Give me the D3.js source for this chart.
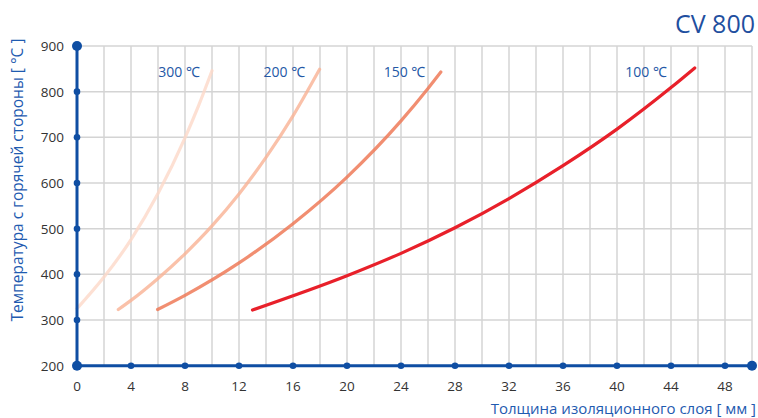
<!DOCTYPE html>
<html>
<head>
<meta charset="utf-8">
<script src="https://cdn.jsdelivr.net/npm/d3@7"></script>
<style>
  html, body { margin: 0; padding: 0; background: #fff; }
  svg { display: block; font-family: "Open Sans", "Noto Sans", sans-serif; }
</style>
</head>
<body>
<svg id="chart" width="758" height="418"></svg>
<script>
// Thickness of insulation layer [mm] vs hot-side temperature [°C], one curve per cold-side temperature
const xTicks = [0, 4, 8, 12, 16, 20, 24, 28, 32, 36, 40, 44, 48];
const yTicks = [200, 300, 400, 500, 600, 700, 800, 900];

const curve300x = [0, 2, 4, 6, 8, 9, 10];
const curve300y = [325, 394, 476, 577, 699, 769, 846];

const curve200x = [3.06, 4, 6, 8, 10, 12, 14, 16, 17.97];
const curve200y = [323, 343, 391, 445, 506, 576, 656, 747, 849];

const curve150x = [5.97, 8, 12, 16, 20, 24, 26, 26.95];
const curve150y = [323, 354, 425, 511, 613, 736, 807, 843];

const curve100x = [13, 20, 24, 28, 32, 36, 40, 44, 45.76];
const curve100y = [322, 397, 446, 502, 566, 638, 718, 809, 852];

const seriesLabels = ["300 ℃", "200 ℃", "150 ℃", "100 ℃"];
const labelX = [9.1, 16.9, 25.8, 43.7];

const svg = d3.select("#chart");
const x = d3.scaleLinear().domain([0, 50]).range([77, 752]);
const y = d3.scaleLinear().domain([200, 900]).range([365.7, 46]);

const blue = "#0f4ea3";
const gridColor = "#d4d4d4";

// grid
const grid = svg.append("g");
grid.selectAll("line.v").data(d3.range(2, 51, 2)).join("line")
  .attr("x1", d => x(d)).attr("x2", d => x(d))
  .attr("y1", y(900)).attr("y2", y(200))
  .attr("stroke", gridColor).attr("stroke-width", 1.5);
grid.selectAll("line.h").data(d3.range(300, 901, 100)).join("line")
  .attr("x1", x(0)).attr("x2", x(50))
  .attr("y1", d => y(d)).attr("y2", d => y(d))
  .attr("stroke", gridColor).attr("stroke-width", 1.5);

// curves
const series = [
  { xs: curve300x, ys: curve300y, color: "#fdd8c8", op: 0.8 },
  { xs: curve200x, ys: curve200y, color: "#f9b193", op: 0.8 },
  { xs: curve150x, ys: curve150y, color: "#ee7a58", op: 0.85 },
  { xs: curve100x, ys: curve100y, color: "#e8202a", op: 1 }
];
const line = d3.line().x(d => x(d[0])).y(d => y(d[1])).curve(d3.curveMonotoneX);
series.forEach(s => {
  svg.append("path")
    .datum(s.xs.map((v, i) => [v, s.ys[i]]))
    .attr("d", line)
    .attr("fill", "none")
    .attr("stroke", s.color)
    .attr("stroke-opacity", s.op)
    .attr("stroke-width", 3.2)
    .attr("stroke-linecap", "round");
});

// curve labels
svg.append("g").selectAll("text").data(seriesLabels).join("text")
  .attr("x", (d, i) => x(labelX[i]))
  .attr("y", 77)
  .attr("text-anchor", "end")
  .attr("fill", "#2458a6")
  .attr("font-size", 14)
  .text(d => d);

// axes
const ax = svg.append("g");
ax.append("line").attr("x1", x(0)).attr("x2", x(50)).attr("y1", y(200)).attr("y2", y(200))
  .attr("stroke", blue).attr("stroke-width", 3);
ax.append("line").attr("x1", x(0)).attr("x2", x(0)).attr("y1", y(200)).attr("y2", y(900))
  .attr("stroke", blue).attr("stroke-width", 3);
ax.selectAll("circle.xt").data(xTicks.slice(1)).join("circle")
  .attr("cx", d => x(d)).attr("cy", y(200)).attr("r", 3.3).attr("fill", blue);
ax.selectAll("circle.yt").data(yTicks.slice(1, -1)).join("circle")
  .attr("cx", x(0)).attr("cy", d => y(d)).attr("r", 3.3).attr("fill", blue);
ax.selectAll("circle.end").data([[0, 200], [50, 200], [0, 900]]).join("circle")
  .attr("cx", d => x(d[0])).attr("cy", d => y(d[1])).attr("r", 5).attr("fill", blue);

// tick labels
ax.selectAll("text.xl").data(xTicks).join("text")
  .attr("x", d => x(d)).attr("y", 391)
  .attr("text-anchor", "middle").attr("font-size", 13.5).attr("fill", "#333")
  .text(d => d);
ax.selectAll("text.yl").data(yTicks).join("text")
  .attr("x", 64).attr("y", d => y(d) + 5)
  .attr("text-anchor", "end").attr("font-size", 13.5).attr("fill", "#333")
  .text(d => d);

// titles
svg.append("text")
  .attr("transform", "translate(23,180) rotate(-90)")
  .attr("text-anchor", "middle").attr("font-size", 15.5).attr("fill", "#1f5bb0")
  .text("Температура с горячей стороны [ °C ]");
svg.append("text")
  .attr("x", 756).attr("y", 414)
  .attr("text-anchor", "end").attr("font-size", 15).attr("fill", "#1f5bb0")
  .text("Толщина изоляционного слоя [ мм ]");
svg.append("text")
  .attr("x", 755).attr("y", 33)
  .attr("text-anchor", "end").attr("font-size", 25).attr("fill", "#1f4f9f")
  .text("CV 800");
</script>
</body>
</html>
